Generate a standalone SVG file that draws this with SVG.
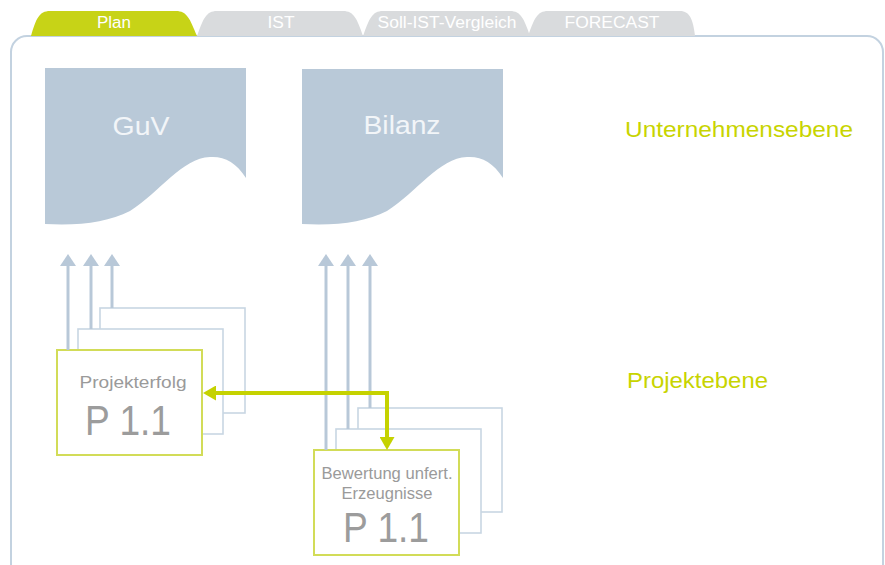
<svg xmlns="http://www.w3.org/2000/svg" width="885" height="565" viewBox="0 0 885 565">
<defs>
<style>
.tab{fill:#d9dbdd}
.tab.on{fill:#c7d317}
.tabtxt{font-family:"Liberation Sans",Arial,sans-serif;font-size:16px;fill:#ffffff;text-anchor:middle}
.doc{fill:#b9c9d8}
.doctxt{font-family:"Liberation Sans",Arial,sans-serif;font-size:25px;fill:#f2f5f8;text-anchor:middle}
.back{fill:#ffffff;stroke:#c8d6e3;stroke-width:1.6}
.front{fill:#ffffff;stroke:#d2dc58;stroke-width:2}
.small{font-family:"Liberation Sans",Arial,sans-serif;font-size:16px;fill:#9a9a9a;text-anchor:middle}
.big{font-family:"Liberation Sans",Arial,sans-serif;font-size:42px;fill:#9c9c9c;text-anchor:middle}
.level{font-family:"Liberation Sans",Arial,sans-serif;font-size:22px;fill:#c8d400}
.up{stroke:#b8c8d8;stroke-width:3;fill:none;marker-end:url(#blueHead)}
.green{stroke:#c5d200;stroke-width:4;fill:none;marker-start:url(#greenHead);marker-end:url(#greenHead)}
</style>
<marker id="blueHead" markerUnits="userSpaceOnUse" markerWidth="12" markerHeight="16" refX="0" refY="8" orient="auto" viewBox="0 0 12 16">
<path d="M0,0 L12,8 L0,16 Z" fill="#b8c8d8"/>
</marker>
<marker id="greenHead" markerUnits="userSpaceOnUse" markerWidth="13" markerHeight="15" refX="0" refY="7.5" orient="auto-start-reverse" viewBox="0 0 13 15">
<path d="M0,0 L13,7.5 L0,15 Z" fill="#c5d200"/>
</marker>
</defs>

<rect width="885" height="565" fill="#ffffff"/>

<g id="panel">
<rect x="11" y="36" width="872" height="580" rx="16" ry="16" fill="#ffffff" stroke="#c3d2e0" stroke-width="2"/>
</g>

<g id="tabs">
<g id="tab-plan">
<path class="tab on" d="M31,36 C36,19 39,11 50,11 H176 C187,11 190,19 197,36 Z"/>
<text class="tabtxt" x="114" y="28" textLength="34" lengthAdjust="spacingAndGlyphs">Plan</text>
</g>
<g id="tab-ist">
<path class="tab" d="M197,36 C203,19 206,11 217,11 H343 C354,11 357,19 363,36 Z"/>
<text class="tabtxt" x="281" y="28" textLength="27" lengthAdjust="spacingAndGlyphs">IST</text>
</g>
<g id="tab-soll">
<path class="tab" d="M363,36 C369,19 372,11 383,11 H510 C521,11 524,19 530,36 Z"/>
<text class="tabtxt" x="447" y="28" textLength="139" lengthAdjust="spacingAndGlyphs">Soll-IST-Vergleich</text>
</g>
<g id="tab-forecast">
<path class="tab" d="M528,36 C534,19 537,11 548,11 H680 C690,11 693,20 695,36 Z"/>
<text class="tabtxt" x="612" y="28" textLength="95" lengthAdjust="spacingAndGlyphs">FORECAST</text>
</g>
</g>

<g id="guv">
<path class="doc" d="M45,68 H246 V178 C236,162 224,156 210,157 C182,158 160,192 130,211 C108,222 80,226 45,224 Z"/>
<text class="doctxt" x="141" y="135" textLength="57" lengthAdjust="spacingAndGlyphs">GuV</text>
</g>

<g id="bilanz">
<path class="doc" d="M302,69 H503 V178 C493,162 481,156 467,157 C439,158 417,192 387,211 C365,222 337,226 302,224 Z"/>
<text class="doctxt" x="402" y="134" textLength="77" lengthAdjust="spacingAndGlyphs">Bilanz</text>
</g>

<g id="unternehmensebene">
<text class="level" x="625" y="137" textLength="228" lengthAdjust="spacingAndGlyphs">Unternehmensebene</text>
</g>
<g id="projektebene">
<text class="level" x="627" y="388" textLength="141" lengthAdjust="spacingAndGlyphs">Projektebene</text>
</g>

<g id="projekterfolg">
<rect class="back" x="100" y="308" width="145" height="105"/>
<rect class="back" x="78" y="329" width="145" height="105"/>
<rect class="front" x="57" y="350" width="145" height="105"/>
<text class="small" x="133" y="388" textLength="107" lengthAdjust="spacingAndGlyphs">Projekterfolg</text>
<text class="big" x="128" y="435" textLength="86" lengthAdjust="spacingAndGlyphs">P 1.1</text>
</g>

<g id="bewertung">
<rect class="back" x="358" y="408" width="144" height="104"/>
<rect class="back" x="336" y="429" width="145" height="104"/>
<rect class="front" x="314" y="450" width="145" height="105"/>
<text class="small" x="387" y="479" textLength="131" lengthAdjust="spacingAndGlyphs">Bewertung unfert.</text>
<text class="small" x="387" y="499" textLength="91" lengthAdjust="spacingAndGlyphs">Erzeugnisse</text>
<text class="big" x="386" y="542" textLength="86" lengthAdjust="spacingAndGlyphs">P 1.1</text>
</g>

<g id="connectors">
<line class="up" x1="68" y1="350" x2="68" y2="266"/>
<line class="up" x1="91" y1="329" x2="91" y2="266"/>
<line class="up" x1="112" y1="308" x2="112" y2="266"/>
<line class="up" x1="326" y1="450" x2="326" y2="266"/>
<line class="up" x1="348" y1="429" x2="348" y2="266"/>
<line class="up" x1="370" y1="408" x2="370" y2="266"/>
<path class="green" d="M216,393 H387 V437"/>
</g>
</svg>
